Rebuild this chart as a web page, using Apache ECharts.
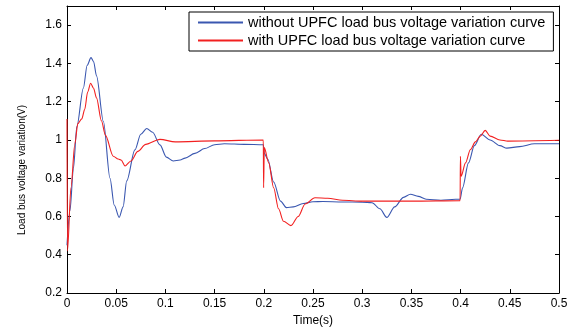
<!DOCTYPE html>
<html>
<head>
<meta charset="utf-8">
<script src="https://cdn.jsdelivr.net/npm/echarts@6/dist/echarts.min.js"></script>
<style>
  html, body { margin: 0; padding: 0; background: #fff; }
  #chart { width: 579px; height: 332px; }
</style>
</head>
<body>
<div id="chart"></div>
<script>
// time (s) / voltage pairs
var withoutUpfc = [
  [0, 0.45], [0.003, 0.63], [0.0065, 0.85], [0.01, 1.07], [0.0166, 1.27], [0.0205, 1.39],
  [0.0244, 1.43], [0.027, 1.41], [0.03, 1.335], [0.037, 1.096], [0.0437, 0.8], [0.048, 0.66],
  [0.053, 0.595], [0.057, 0.65], [0.0607, 0.786], [0.069, 0.948], [0.075, 1.03], [0.081, 1.06],
  [0.087, 1.04], [0.0945, 0.974], [0.101, 0.91], [0.108, 0.89], [0.115, 0.895], [0.12, 0.905],
  [0.13, 0.93], [0.14, 0.955], [0.15, 0.975], [0.16, 0.98], [0.18, 0.977], [0.1995, 0.975],
  [0.2005, 0.93], [0.204, 0.9], [0.21, 0.78], [0.217, 0.68], [0.223, 0.646], [0.23, 0.65],
  [0.24, 0.668], [0.25, 0.677], [0.26, 0.678], [0.28, 0.676], [0.3, 0.675], [0.31, 0.672],
  [0.318, 0.64], [0.325, 0.595], [0.333, 0.65], [0.342, 0.7], [0.349, 0.716], [0.357, 0.705],
  [0.365, 0.69], [0.38, 0.685], [0.395, 0.69], [0.3995, 0.69], [0.402, 0.75], [0.408, 0.88],
  [0.414, 0.97], [0.421, 1.03], [0.43, 1.0], [0.44, 0.97], [0.447, 0.957], [0.46, 0.965],
  [0.475, 0.98], [0.5, 0.98]
];
var withUpfc = [
  [0, 1.11], [0.0005, 0.42], [0.004, 0.75], [0.008, 0.98], [0.011, 1.085], [0.015, 1.11],
  [0.018, 1.16], [0.021, 1.25], [0.024, 1.296], [0.027, 1.27], [0.03, 1.22], [0.035, 1.1],
  [0.039, 1.025], [0.047, 0.915], [0.052, 0.9], [0.055, 0.895], [0.059, 0.864], [0.065, 0.89],
  [0.072, 0.94], [0.08, 0.977], [0.0945, 1.003], [0.11, 0.99], [0.15, 0.995], [0.1995, 1.0],
  [0.1998, 0.75], [0.2005, 0.96], [0.205, 0.88], [0.21, 0.75], [0.215, 0.64], [0.22, 0.575],
  [0.2276, 0.552], [0.235, 0.6], [0.242, 0.665], [0.252, 0.698], [0.265, 0.695], [0.28, 0.685],
  [0.3, 0.68], [0.35, 0.68], [0.3995, 0.683], [0.3998, 0.914], [0.4005, 0.81], [0.405, 0.88],
  [0.41, 0.95], [0.415, 0.99], [0.42, 1.02], [0.425, 1.05], [0.43, 1.02], [0.44, 1.0],
  [0.448, 0.994], [0.5, 0.998]
];
var seriesNames = [
  'without UPFC load bus voltage variation curve',
  'with UPFC load bus voltage variation curve'
];

var myChart = echarts.init(document.getElementById('chart'));
var font = 'Liberation Sans, Arial, sans-serif';
var axisBase = {
  axisLine: { show: true, onZero: false, lineStyle: { color: '#000', width: 1 } },
  axisTick: { show: true, inside: true, length: 4, lineStyle: { color: '#000' } },
  splitLine: { show: false }
};
var option = {
  animation: false,
  backgroundColor: '#fff',
  grid: { left: 67, right: 20, top: 6, bottom: 36 },
  legend: {
    left: 189, top: 12,
    orient: 'vertical',
    data: seriesNames,
    itemWidth: 45, itemHeight: 2, itemGap: 3,
    icon: 'rect',
    padding: [3, 8, 3, 9],
    borderColor: '#000', borderWidth: 1,
    backgroundColor: '#fff',
    textStyle: { color: '#000', fontSize: 14.5, fontFamily: font }
  },
  // y axis title sits a little below the middle in the reference
  graphic: [{
    type: 'text', rotation: Math.PI / 2,
    x: 22, y: 170,
    style: {
      text: 'Load bus voltage variation(V)', fill: '#000',
      font: '10px ' + font, align: 'center', verticalAlign: 'middle'
    }
  }],
  xAxis: [
    Object.assign({}, axisBase, {
      type: 'value', min: 0, max: 0.5, interval: 0.05,
      name: 'Time(s)', nameLocation: 'middle', nameGap: 22,
      nameTextStyle: { color: '#000', fontSize: 12, fontFamily: font },
      axisLabel: { color: '#000', fontSize: 12, fontFamily: font, margin: 5,
        formatter: function (v) { return +v.toFixed(2) + ''; } }
    }),
    Object.assign({}, axisBase, {
      type: 'value', min: 0, max: 0.5, interval: 0.05, position: 'top',
      axisLabel: { show: false }
    })
  ],
  yAxis: [
    Object.assign({}, axisBase, {
      type: 'value', min: 0.2, max: 1.7, interval: 0.2,
      axisLabel: { color: '#000', fontSize: 12, fontFamily: font, margin: 5, showMaxLabel: false,
        formatter: function (v) { return +v.toFixed(1) + ''; } }
    }),
    Object.assign({}, axisBase, {
      type: 'value', min: 0.2, max: 1.7, interval: 0.2, position: 'right',
      axisLabel: { show: false }
    })
  ],
  series: [
    {
      name: seriesNames[0], type: 'line', data: withoutUpfc,
      showSymbol: false, smooth: 0.3, smoothMonotone: 'x',
      itemStyle: { color: '#3a57b0' },
      lineStyle: { color: '#3a57b0', width: 1.1 }
    },
    {
      name: seriesNames[1], type: 'line', data: withUpfc,
      showSymbol: false, smooth: 0.3, smoothMonotone: 'x',
      itemStyle: { color: '#f22020' },
      lineStyle: { color: '#f22020', width: 1.1 }
    }
  ]
};
myChart.setOption(option);
</script>
</body>
</html>
